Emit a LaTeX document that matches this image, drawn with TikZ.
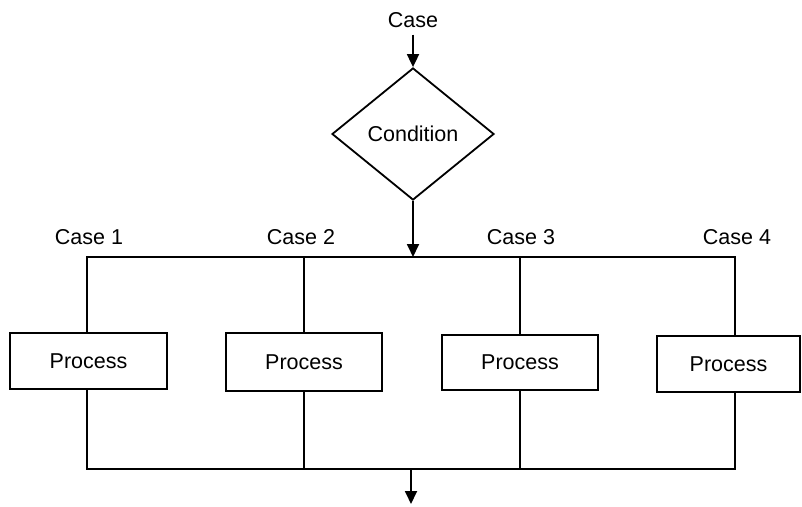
\documentclass[tikz,border=0pt]{standalone}
\usepackage{fontspec}
\setmainfont{Liberation Sans}
\usetikzlibrary{shapes.geometric,arrows.meta}
\begin{document}
\begin{tikzpicture}[x=1pt,y=-1pt, line width=1.8pt,
  txt/.style={font=\fontsize{21.5}{24}\selectfont, inner sep=0pt},
  proc/.style={draw, txt, minimum height=56pt},
  arr/.style={-{Triangle[length=13pt,width=12pt]}}]
\useasboundingbox (0,0) rectangle (802,506);
\node[txt] (case) at (413,20) {Case};
\node[draw, diamond, txt, minimum width=162pt, minimum height=132pt] (cond) at (413,134) {Condition};
\draw[arr] ([yshift=-6pt]case.south) -- (cond.north);
\coordinate (b1) at (87,257);
\coordinate (b2) at (304,257);
\coordinate (b3) at (520,257);
\coordinate (b4) at (735,257);
\coordinate (bj) at (413,257);
\draw[arr] (cond.south) -- (bj);
\node[txt] (l1) at (89,237) {Case 1};
\node[txt] (l2) at (301,237) {Case 2};
\node[txt] (l3) at (521,237) {Case 3};
\node[txt] (l4) at (737,237) {Case 4};
\node[proc, minimum width=157pt] (p1) at (88.5,361) {Process};
\node[proc, minimum width=156pt, minimum height=58pt] (p2) at (304,362) {Process};
\node[proc, minimum width=156pt, minimum height=55pt] (p3) at (520,362.5) {Process};
\node[proc, minimum width=143pt] (p4) at (728.5,364) {Process};
\coordinate (c1) at (87,469);
\coordinate (c2) at (304,469);
\coordinate (c3) at (520,469);
\coordinate (c4) at (735,469);
\coordinate (cj) at (411,469);
\coordinate (out) at (411,504);
\draw (b1 |- p1.north) -- (b1) -- (b4) -- (b4 |- p4.north);
\draw (b2) -- (b2 |- p2.north);
\draw (b3) -- (b3 |- p3.north);
\draw (c1 |- p1.south) -- (c1) -- (c4) -- (c4 |- p4.south);
\draw (c2 |- p2.south) -- (c2);
\draw (c3 |- p3.south) -- (c3);
\draw[arr] (cj) -- (out);
\end{tikzpicture}
\end{document}
